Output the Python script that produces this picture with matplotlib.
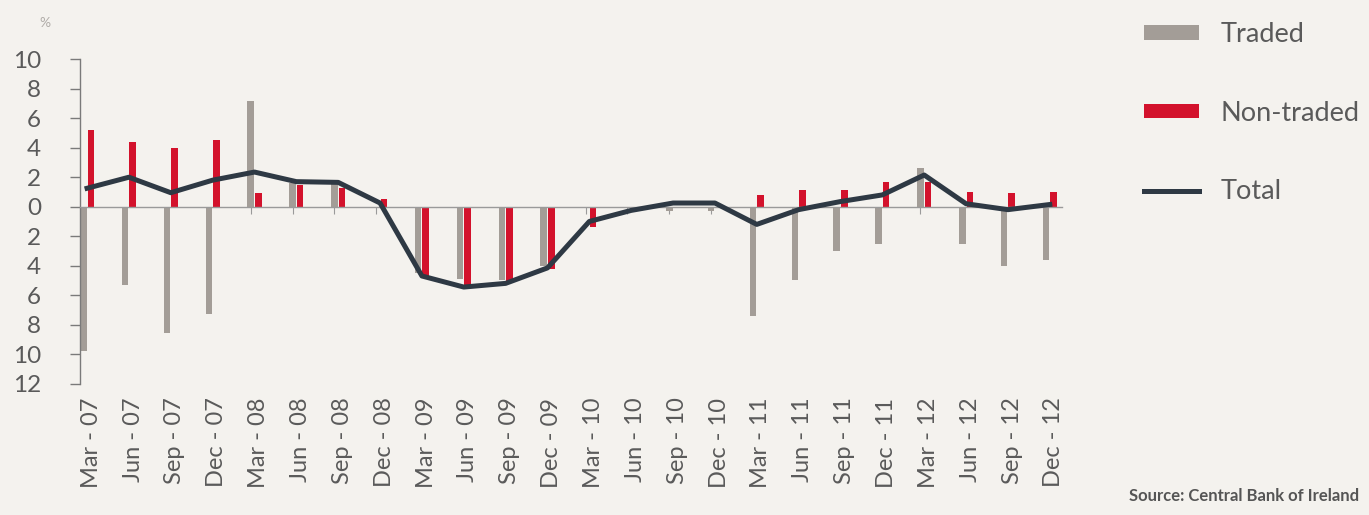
import matplotlib.pyplot as plt
import numpy as np

plt.rcParams['font.family'] = ['Lato', 'DejaVu Sans']

# quarterly categories, Mar 2007 - Dec 2012
quarters = ['Mar', 'Jun', 'Sep', 'Dec']
years = ['07', '08', '09', '10', '11', '12']
labels = [q + ' - ' + y for y in years for q in quarters]

# contributions, percentage points
traded = [-9.8, -5.3, -8.6, -7.3, 7.2, 1.6, 1.6, 0.0,
          -4.5, -4.9, -5.0, -4.0, 0.0, 0.0, -0.3, -0.3,
          -7.4, -5.0, -3.0, -2.5, 2.6, -2.5, -4.0, -3.6]
non_traded = [5.2, 4.4, 4.0, 4.5, 0.9, 1.5, 1.3, 0.5,
              -4.7, -5.4, -5.1, -4.2, -1.4, 0.0, 0.0, 0.0,
              0.8, 1.1, 1.1, 1.7, 1.7, 1.0, 0.9, 1.0]
total = [1.25, 2.0, 0.95, 1.8, 2.35, 1.7, 1.65, 0.25,
         -4.7, -5.45, -5.2, -4.15, -1.0, -0.25, 0.25, 0.25,
         -1.2, -0.2, 0.35, 0.8, 2.15, 0.2, -0.2, 0.15]

ytick_vals = [10, 8, 6, 4, 2, 0, -2, -4, -6, -8, -10, -12]

c_traded = '#a39d97'
c_non = '#d3122c'
c_total = '#2e3944'
c_text = '#5a5a5a'
bg = '#f4f2ee'

fig = plt.figure(figsize=(13.69, 5.15), dpi=100, facecolor=bg)
ax = fig.add_axes([0.0584, 0.2551, 0.7176, 0.6298])
ax.set_facecolor(bg)

x = np.arange(len(labels))
w = 0.155
b1 = ax.bar(x - 0.09, traded, w, color=c_traded, label='Traded', zorder=2)
b2 = ax.bar(x + 0.09, non_traded, w, color=c_non, label='Non-traded', zorder=2)
l1, = ax.plot(x, total, color=c_total, lw=3.6, label='Total', zorder=3,
              solid_joinstyle='round')

ax.set_xlim(-0.17, 23.3)
ax.set_ylim(-12, 10)

# main x axis sits on zero, only short ticks
ax.spines['bottom'].set_position(('data', 0))
ax.spines['bottom'].set_color('#9a9a9a')
ax.spines['bottom'].set_linewidth(1.0)
ax.spines['top'].set_visible(False)
ax.spines['right'].set_visible(False)
ax.spines['left'].set_color('#7a7a7a')
ax.spines['left'].set_linewidth(1.0)
ax.set_xticks(x - 0.09)
ax.tick_params(axis='x', direction='out', length=5, width=0.8,
               color='#9a9a9a', labelbottom=False)

ax.set_yticks(ytick_vals)
ax.set_yticklabels([str(abs(v)) for v in ytick_vals])
ax.tick_params(axis='y', direction='out', length=7, width=1.0,
               color='#7a7a7a', labelsize=17.5, labelcolor=c_text, pad=21)

# category labels along the bottom
sec = ax.secondary_xaxis('bottom')
sec.set_xticks(x + 0.1)
sec.set_xticklabels(labels, rotation=90, fontsize=17, color=c_text)
sec.tick_params(length=0, pad=10)
sec.spines['bottom'].set_visible(False)

fig.text(0.029, 0.955, '%', fontsize=10, color='#b0aca8', ha='left', va='center')

fig.legend([b1, b2, l1], ['Traded', 'Non-traded', 'Total'],
           loc='upper left', bbox_to_anchor=(0.836, 0.957), frameon=False,
           borderpad=0, borderaxespad=0,
           fontsize=19.5, labelcolor=c_text, handlelength=2.0,
           handleheight=0.45, labelspacing=1.98, handletextpad=0.8)

fig.text(0.825, 0.022, 'Source: Central Bank of Ireland', fontsize=12,
         fontweight='bold', color='#555555', ha='left', va='bottom')

fig.savefig('out.png', dpi=100, facecolor=bg)
